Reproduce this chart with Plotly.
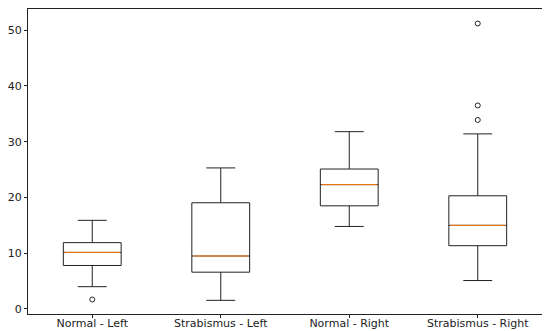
import plotly.graph_objects as go

categories = ["Normal - Left", "Strabismus - Left", "Normal - Right", "Strabismus - Right"]
positions = [1, 2, 3, 4]
lower_whisker = [4.0, 1.55, 14.8, 5.1]
q1 = [7.8, 6.6, 18.5, 11.35]
median = [10.15, 9.5, 22.3, 15.0]
q3 = [11.9, 19.05, 25.1, 20.3]
upper_whisker = [15.9, 25.3, 31.8, 31.4]
outliers = [[1.7], [], [], [51.2, 36.5, 33.9]]

box_width = 0.45

fig = go.Figure()
fig.add_trace(go.Box(
    x=positions, q1=q1, median=median, q3=q3,
    lowerfence=lower_whisker, upperfence=upper_whisker,
    width=box_width, whiskerwidth=0.5,
    fillcolor="rgba(255,255,255,0)",
    line=dict(color="#222222", width=1),
    boxpoints=False, showlegend=False, hoverinfo="skip",
))

for p, m in zip(positions, median):
    fig.add_trace(go.Scatter(
        x=[p - box_width / 2 + 0.01, p + box_width / 2 - 0.01], y=[m, m],
        mode="lines", line=dict(color="#ff7f0e", width=1),
        showlegend=False, hoverinfo="skip",
    ))

for p, outs in zip(positions, outliers):
    if outs:
        fig.add_trace(go.Scatter(
            x=[p] * len(outs), y=outs, mode="markers",
            marker=dict(symbol="circle-open", size=5, color="#222222", line=dict(width=1)),
            showlegend=False, hoverinfo="skip",
        ))

# page body has an 8px margin, so the figure is drawn at (8, 8)
fig.update_layout(
    width=542, height=323,
    margin=dict(l=20, r=8, t=1, b=17),
    paper_bgcolor="white", plot_bgcolor="white",
    font=dict(family="DejaVu Sans", size=11, color="#222222"),
)
fig.update_xaxes(
    range=[0.5, 4.5], tickmode="array", tickvals=positions, ticktext=categories,
    showgrid=False, zeroline=False, showline=True, linecolor="#222222", linewidth=1,
    mirror=True, ticks="outside", ticklen=3, tickcolor="#222222", automargin=False,
    ticklabelstandoff=-4,
)
fig.update_yaxes(
    range=[-0.9, 53.8], tickmode="array", tickvals=[0, 10, 20, 30, 40, 50],
    showgrid=False, zeroline=False, showline=True, linecolor="#222222", linewidth=1,
    mirror=True, ticks="outside", ticklen=3, tickcolor="#222222", automargin=False,
)

fig.write_html("out.html")
